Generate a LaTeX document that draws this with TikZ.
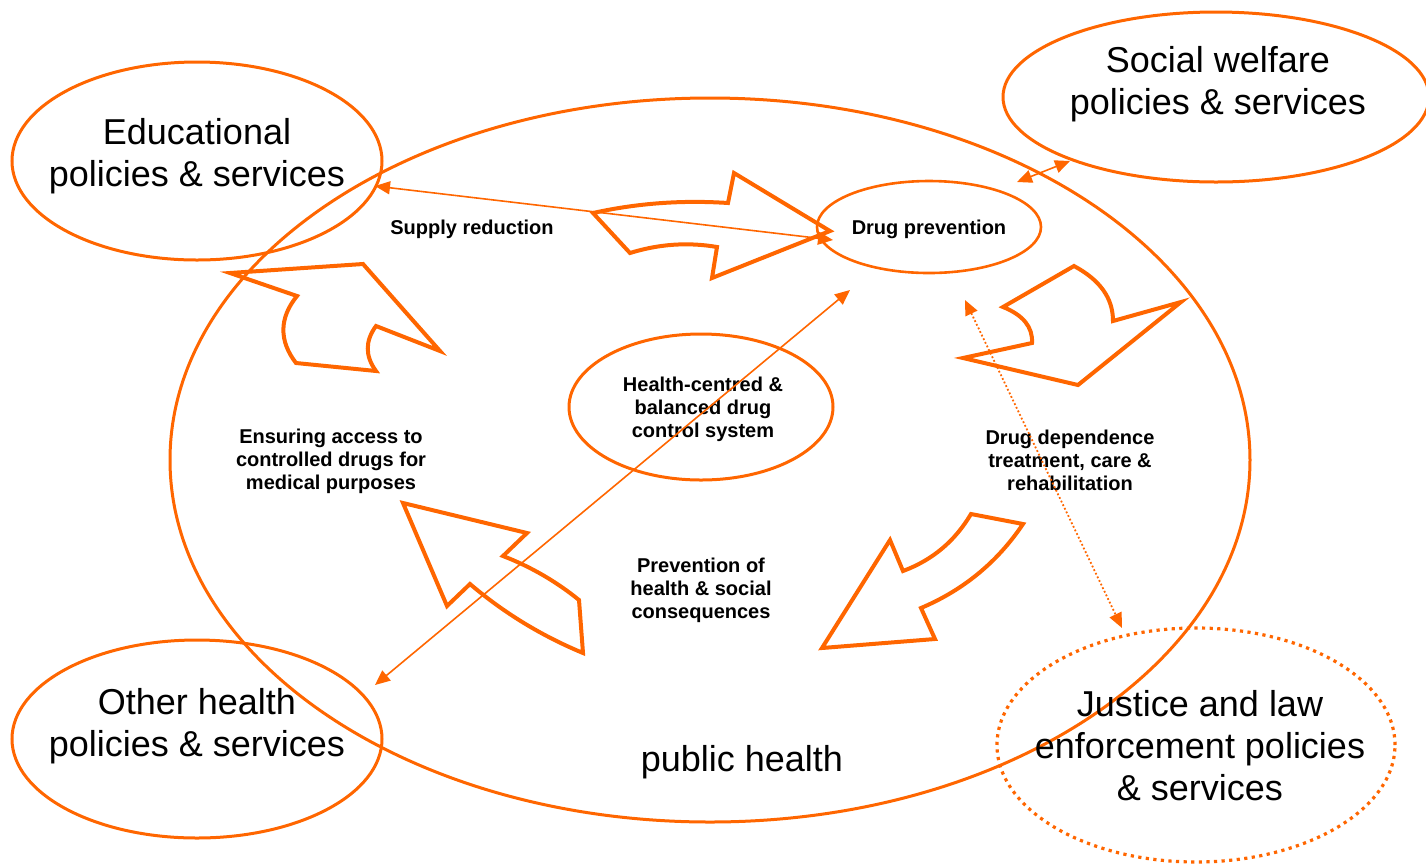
\documentclass[tikz,border=0pt]{standalone}
\usepackage{fontspec}
\setmainfont{Liberation Sans}
\usetikzlibrary{shapes.geometric,arrows.meta}
\definecolor{org}{RGB}{255,102,0}
\begin{document}
\begin{tikzpicture}[x=0.5pt,y=-0.5pt,
  ell/.style={draw=org,ellipse,line width=1.5pt,inner sep=0pt},
  blockarrow/.style={draw=org,line width=2pt,line join=miter},
  conn/.style={color=org,line width=0.8pt,{Triangle[length=7.5pt,width=6.5pt]}-{Triangle[length=7.5pt,width=6.5pt]}},
  dotconn/.style={conn,line width=0.9pt,dash pattern=on 0.9pt off 1.1pt},
  big/.style={font=\fontsize{18}{21}\selectfont,align=center,inner sep=0pt},
  small/.style={font=\fontsize{10}{11.5}\selectfont\bfseries,align=center,inner sep=0pt}]
\useasboundingbox (0,0) rectangle (1426,864);

% ellipses
\node[ell,minimum width=540pt,minimum height=362pt] (main) at (710,460) {};
\node[ell,minimum width=185pt,minimum height=99pt] (edu) at (197,161) {};
\node[ell,minimum width=213pt,minimum height=85pt] (soc) at (1216,97) {};
\node[ell,minimum width=185pt,minimum height=99pt] (oth) at (197,739) {};
\node[ell,line width=1.6pt,dash pattern=on 1.6pt off 2.2pt,minimum width=199pt,minimum height=117pt] (jus) at (1196,745) {};
\node[ell,line width=1.3pt,minimum width=112pt,minimum height=46pt] (dp) at (929,227) {};
\node[ell,minimum width=132pt,minimum height=73pt] (hc) at (701,407) {};

% large labels
\node[big] (tedu) at (197,156) {Educational\\policies \& services};
\node[big] (tsoc) at (1218,84) {Social welfare\\policies \& services};
\node[big] (toth) at (197,726) {Other health\\policies \& services};
\node[big] (tjus) at (1200,746) {Justice and law\\enforcement policies\\\& services};
\node[big] (tpub) at (742,762) {public health};

% small labels
\node[small] (tsup) at (472,229) {Supply reduction};
\node[small] (tdp) at (929,229) {Drug prevention};
\node[small] (thc) at (703,409) {Health-centred \&\\balanced drug\\control system};
\node[small] (tacc) at (331,461) {Ensuring access to\\controlled drugs for\\medical purposes};
\node[small] (tdd) at (1070,460) {Drug dependence\\treatment, care \&\\rehabilitation};
\node[small] (tprev) at (701,590) {Prevention of\\health \& social\\consequences};

% block arrows (cycle)
\draw[blockarrow] (593,213) .. controls (638,203) and (683,200) .. (728,203) -- (734,173) -- (830,231)
  -- (712,278) -- (717,247) .. controls (688,242) and (659,244) .. (630,253) -- cycle;
\draw[blockarrow] (1003,307) -- (1074,266) .. controls (1100,280) and (1113,298) .. (1113,321) -- (1181,302)
  -- (1078,385) -- (963,358) -- (1032,343) .. controls (1033,327) and (1023,315) .. cycle;
\draw[blockarrow] (971,514) -- (1023,524) .. controls (997.5,562) and (963.5,590) .. (921,608) -- (935,639)
  -- (822,648) -- (890,540) -- (903,571) .. controls (932.6,560) and (955,541) .. cycle;
\draw[blockarrow] (583,653) .. controls (542,636) and (504,613) .. (470,584) -- (447,606) -- (403,503)
  -- (527,533) -- (503,556) .. controls (530.6,566.7) and (556,581.3) .. (579,600) -- cycle;
\draw[blockarrow] (376,371) -- (296,363) .. controls (279,341) and (279,318) .. (297,296) -- (230,273)
  -- (363,264) -- (440,351) -- (376,326) .. controls (365,341) and (365,356) .. cycle;

% connector end points
\coordinate (eduE) at (375,186);
\coordinate (dpW) at (833,240);
\coordinate (socSW) at (1070,161);
\coordinate (dpNE) at (1017,182);
\coordinate (othNE) at (375,685);
\coordinate (dpSW) at (850,290);
\coordinate (dpS) at (965,300);
\coordinate (jusN) at (1122,628);

\draw[conn] (eduE) -- (dpW);
\draw[conn] (dpNE) -- (socSW);
\draw[conn] (othNE) -- (dpSW);
\draw[dotconn] (dpS) -- (jusN);
\end{tikzpicture}
\end{document}
